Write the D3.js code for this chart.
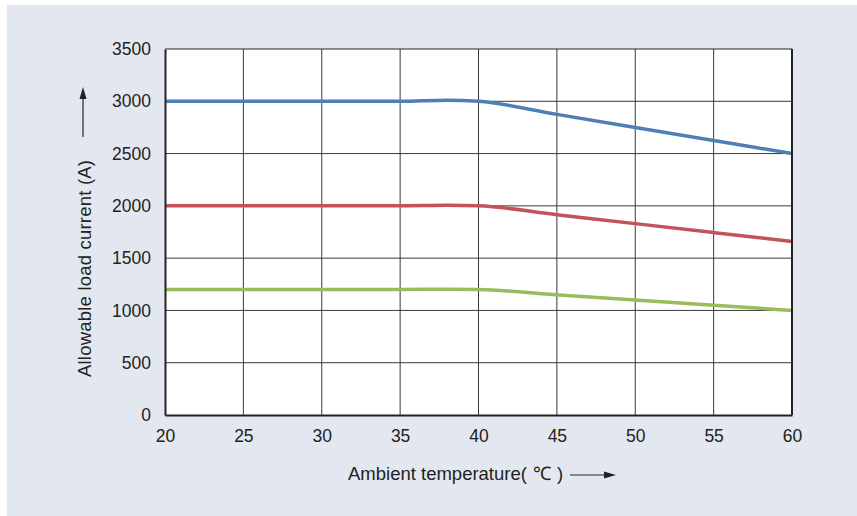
<!DOCTYPE html>
<html><head><meta charset="utf-8">
<script src="https://cdn.jsdelivr.net/npm/d3@7"></script>
<style>body{margin:0;background:#fff}svg{display:block;font-family:"Liberation Sans",Arial,sans-serif}</style>
</head><body><svg id="c" width="857" height="516"></svg>
<script>
const temps = [20, 25, 30, 35, 38, 40, 45, 50, 55, 60];
const blueVals = [3000, 3000, 3000, 3000, 3010, 3000, 2875, 2750, 2625, 2500];
const redVals = [2000, 2000, 2000, 2000, 2005, 2000, 1915, 1830, 1745, 1660];
const greenVals = [1200, 1200, 1200, 1200, 1203, 1200, 1150, 1100, 1050, 1000];
const xTicks = [20, 25, 30, 35, 40, 45, 50, 55, 60];
const yTicks = [0, 500, 1000, 1500, 2000, 2500, 3000, 3500];
const seriesColors = ["#4f7fb6", "#c2535b", "#9bbb5f"];

const svg = d3.select("#c");
svg.append("rect").attr("x", 7).attr("y", 5).attr("width", 850).attr("height", 511).attr("fill", "#e3e8f0");
const L = 165, R = 792, T = 49, B = 415;
const x = d3.scaleLinear().domain([20, 60]).range([L, R]);
const y = d3.scaleLinear().domain([0, 3500]).range([B, T]);
svg.append("rect").attr("x", L).attr("y", T).attr("width", R - L).attr("height", B - T).attr("fill", "#fff");

// grid
svg.append("g").selectAll("line").data(xTicks.slice(1, -1)).join("line")
  .attr("x1", d => x(d)).attr("x2", d => x(d)).attr("y1", T).attr("y2", B)
  .attr("stroke", "#3a3a3a").attr("stroke-width", 1);
svg.append("g").selectAll("line").data(yTicks.slice(1, -1)).join("line")
  .attr("y1", d => y(d)).attr("y2", d => y(d)).attr("x1", L).attr("x2", R)
  .attr("stroke", "#3a3a3a").attr("stroke-width", 1);

// lines
const line = d3.line().x(d => x(d[0])).y(d => y(d[1])).curve(d3.curveMonotoneX);
[blueVals, redVals, greenVals].forEach((vals, i) => {
  svg.append("path").datum(temps.map((t, j) => [t, vals[j]]))
    .attr("d", line).attr("fill", "none").attr("stroke", seriesColors[i])
    .attr("stroke-width", 3.5);
});

// frame
svg.append("line").attr("x1", L).attr("x2", R).attr("y1", T).attr("y2", T).attr("stroke", "#222").attr("stroke-width", 1.2);
svg.append("line").attr("x1", R).attr("x2", R).attr("y1", T).attr("y2", B).attr("stroke", "#222").attr("stroke-width", 2);

// axes
const xAxis = svg.append("g").attr("transform", `translate(0,${B})`)
  .call(d3.axisBottom(x).tickValues(xTicks).tickFormat(d3.format("d")).tickSize(0).tickPadding(15));
const yAxis = svg.append("g").attr("transform", `translate(${L},0)`)
  .call(d3.axisLeft(y).tickValues(yTicks).tickFormat(d3.format("d")).tickSize(0).tickPadding(14));
[xAxis, yAxis].forEach(g => {
  g.select(".domain").attr("stroke", "#222").attr("stroke-width", 2);
  g.selectAll("text").attr("font-size", 17.5).attr("fill", "#222").attr("font-family", "\"Liberation Sans\",Arial,sans-serif");
});

// y title + arrow
svg.append("text").attr("transform", "translate(91,268.5) rotate(-90)")
  .attr("text-anchor", "middle").attr("font-size", 18.5).attr("fill", "#222")
  .attr("textLength", 217).attr("lengthAdjust", "spacing")
  .text("Allowable load current (A)");
svg.append("line").attr("x1", 83).attr("x2", 83).attr("y1", 137).attr("y2", 96).attr("stroke", "#222").attr("stroke-width", 1.2);
svg.append("path").attr("d", "M83,87 L79.5,99 L86.5,99 Z").attr("fill", "#222");

// x title + arrow
const xt = svg.append("text").attr("y", 480).attr("font-size", 18.5).attr("fill", "#222");
xt.append("tspan").attr("x", 348).text("Ambient temperature(");
xt.append("tspan").attr("x", 533).text("℃");
xt.append("tspan").attr("x", 557).text(")");
svg.append("line").attr("x1", 570).attr("x2", 606).attr("y1", 475).attr("y2", 475).attr("stroke", "#222").attr("stroke-width", 1.2);
svg.append("path").attr("d", "M616,475 L604,471.5 L604,478.5 Z").attr("fill", "#222");
</script></body></html>
